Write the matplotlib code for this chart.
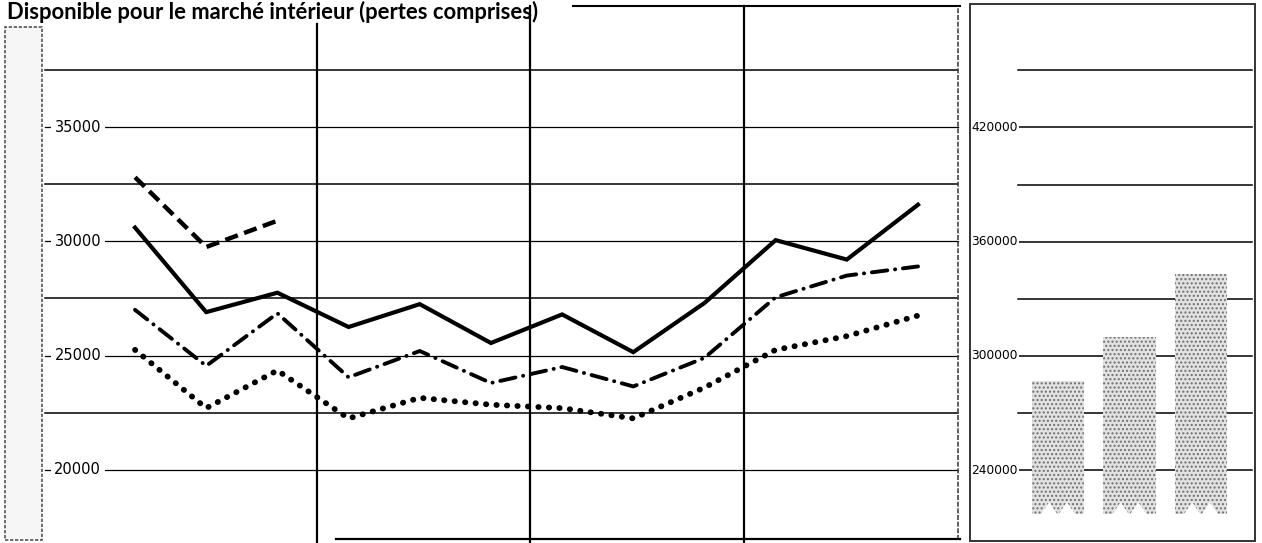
import matplotlib
matplotlib.use("Agg")
import matplotlib.pyplot as plt
from matplotlib.patches import Rectangle, Polygon
import numpy as np

# data
periods = list(range(12))
solid = [30600, 26900, 27750, 26250, 27250, 25550, 26800, 25150, 27300, 30050, 29200, 31600]
dashed = [32800, 29750, 30900]
dashdot = [27000, 24550, 26850, 24050, 25200, 23800, 24500, 23650, 24900, 27550, 28500, 28900]
dotted = [25250, 22700, 24350, 22250, 23150, 22850, 22700, 22250, 23600, 25250, 25850, 26750]

left_ticks = [20000, 25000, 30000, 35000]
left_minor = [22500, 27500, 32500, 37500]
right_ticks = [240000, 300000, 360000, 420000]
right_minor = [270000, 330000, 390000, 450000]
bar_values = [287000, 310000, 343000]
bar_base = 217000
separators = [2.55, 5.55, 8.55]

title = "Disponible pour le marché intérieur (pertes comprises)"

W, H = 1262, 543
fig = plt.figure(figsize=(W / 100, H / 100), dpi=100)
fig.patch.set_facecolor("white")

def px(x0, y0, x1, y1):
    return [x0 / W, 1 - y1 / H, (x1 - x0) / W, (y1 - y0) / H]

# ---- left panel (lines)
ax = fig.add_axes(px(42, 3, 960, 543))
ax.set_xlim(-1.307, 11.59)
ax.set_ylim(16800, 40425)
ax.axis("off")

for v in left_minor:
    ax.axhline(v, xmin=0.003, xmax=0.998, color="black", lw=1.1)
for v in left_ticks:
    ax.axhline(v, xmin=0.003, xmax=0.998, color="black", lw=0.9)
    ax.text(0.039, v, str(v), transform=ax.get_yaxis_transform(), ha="center",
            va="center", fontsize=10.5, color="black",
            bbox=dict(facecolor="white", edgecolor="none", pad=2.5))

# period separators
ax.axvline(separators[0], ymin=0, ymax=(543 - 24) / 540, color="black", lw=1.6)
for s in separators[1:]:
    ax.axvline(s, ymin=0, ymax=(543 - 6) / 540, color="black", lw=1.6)

# frame pieces
ax.plot([(573 - 42) / 918, 1], [537 / 540, 537 / 540], transform=ax.transAxes,
        color="black", lw=1.5, clip_on=False)
ax.plot([0.998, 0.998], [0.005, 537 / 540], transform=ax.transAxes,
        color="#444444", lw=1.2, ls=(0, (3, 1)), clip_on=False)
ax.plot([(336 - 42) / 918, 1], [4 / 540, 4 / 540], transform=ax.transAxes,
        color="black", lw=1.6, clip_on=False)

ax.plot(periods, solid, color="black", lw=3.0, solid_joinstyle="miter", zorder=5)
ax.plot(periods[:3], dashed, color="black", lw=3.2, dashes=(3.0, 1.5),
        dash_capstyle="butt", zorder=5)
ax.plot(periods, dashdot, color="black", lw=2.8, dashes=(4.0, 2.0, 0.05, 2.0),
        dash_capstyle="round", zorder=5)
ax.plot(periods, dotted, color="black", lw=4.2, dashes=(0.05, 1.75),
        dash_capstyle="round", zorder=5)

# ---- right panel (bars)
ax2 = fig.add_axes(px(970, 3, 1255, 543))
ax2.set_xlim(-1.231, 2.755)
ax2.set_ylim(201864, 485250)
ax2.axis("off")

for v in right_minor + right_ticks:
    ax2.axhline(v, xmin=0.17, xmax=0.99, color="black", lw=1.1, zorder=1)
for v in right_ticks:
    ax2.text(0.168, v, str(v), transform=ax2.get_yaxis_transform(), ha="right",
             va="center", fontsize=8.8, color="black", zorder=3,
             bbox=dict(facecolor="white", edgecolor="none", pad=0.5))

bw = 0.73
bars = ax2.bar(range(len(bar_values)), np.array(bar_values) - bar_base, bottom=bar_base,
               width=bw, facecolor="#e2e2e2", edgecolor="#707070", hatch="....",
               lw=0, zorder=2)
# torn bottom edge: white notches cut into each bar
notch_h = (485250 - 201864) / 540 * 12
for b in bars:
    x0 = b.get_x()
    for f in (0.33, 0.67):
        cx = x0 + f * bw
        ax2.add_patch(Polygon([[cx - 0.17 * bw, bar_base - 500], [cx, bar_base + notch_h],
                               [cx + 0.17 * bw, bar_base - 500]],
                              closed=True, facecolor="white", edgecolor="none", zorder=2.5))

ax2.add_patch(Rectangle((0.0, 2 / 540), 1.0, 537 / 540, transform=ax2.transAxes,
                        fill=False, edgecolor="#333333", lw=1.4, clip_on=False, zorder=4))

# ---- left label box
fig.add_artist(Rectangle((5 / W, 1 - 540 / H), 37 / W, 513 / H, transform=fig.transFigure,
                         facecolor="#f6f6f6", edgecolor="#555555", lw=1.2,
                         ls=(0, (2, 1))))

# ---- title at the top edge as in the scan
fig.text(7 / W, 1 - 19 / H, title, fontsize=15.8, fontweight="bold",
         family=["Lato", "DejaVu Sans"], ha="left", va="baseline")

fig.savefig("out.png", dpi=100, facecolor="white")
